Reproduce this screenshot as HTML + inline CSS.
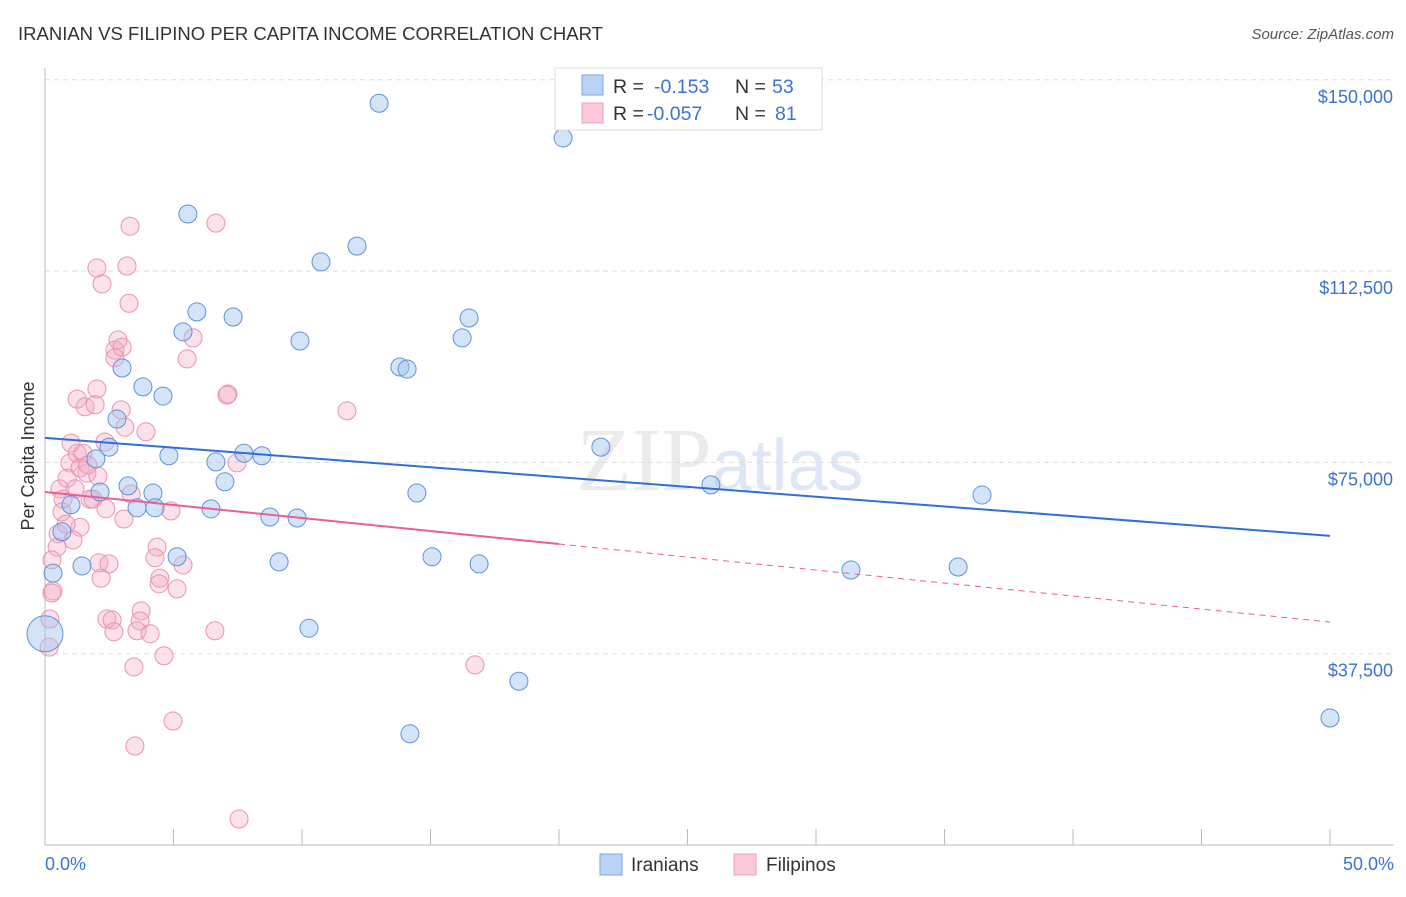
<!DOCTYPE html>
<html><head><meta charset="utf-8"><style>
body{margin:0;background:#fff;font-family:"Liberation Sans",sans-serif}
</style></head><body>
<svg id="chart" width="1406" height="892" xmlns="http://www.w3.org/2000/svg">
<text x="18" y="40" font-size="18.5" fill="#333">IRANIAN VS FILIPINO PER CAPITA INCOME CORRELATION CHART</text>
<text x="1394" y="39" font-size="15" fill="#555" font-style="italic" text-anchor="end">Source: ZipAtlas.com</text>
<text x="720" y="490" font-size="90" fill="#ebebeb" text-anchor="middle" font-family="Liberation Serif,serif">ZIP<tspan fill="#dde7f5" font-family="Liberation Sans,sans-serif" font-size="72">atlas</tspan></text>
<g id="grid"></g>
<line x1="45" y1="68" x2="45" y2="845" stroke="#bbb"/>
<line x1="45" y1="845" x2="1394" y2="845" stroke="#bbb"/>
<text transform="translate(34,456) rotate(-90)" font-size="18" fill="#333" text-anchor="middle">Per Capita Income</text>
<text x="45" y="870" font-size="18" fill="#3b73d1">0.0%</text>
<text x="1394" y="870" font-size="18" fill="#3b73d1" text-anchor="end">50.0%</text>
<g id="ticks"></g>
<g id="pts"></g>
<g id="lines"></g>
<g>
<rect x="555" y="68" width="267" height="62" fill="#fff" stroke="#ddd"/>
<rect x="582" y="75" width="21" height="20" fill="#b9d3f5" stroke="#7da7e0"/>
<rect x="582" y="103" width="21" height="20" fill="#fbc9d7" stroke="#eea0b8"/>
<text x="613" y="93" font-size="19.5" fill="#333">R =</text>
<text x="654" y="93" font-size="19.5" fill="#3b73d1">-0.153</text>
<text x="735" y="93" font-size="19.5" fill="#333">N =</text>
<text x="772" y="93" font-size="19.5" fill="#3b73d1">53</text>
<text x="613" y="120" font-size="19.5" fill="#333">R =</text>
<text x="647" y="120" font-size="19.5" fill="#3b73d1">-0.057</text>
<text x="735" y="120" font-size="19.5" fill="#333">N =</text>
<text x="775" y="120" font-size="19.5" fill="#3b73d1">81</text>
</g>
<g>
<rect x="600" y="854" width="22" height="21" fill="#b9d3f5" stroke="#7da7e0"/>
<text x="631" y="871" font-size="19" fill="#333">Iranians</text>
<rect x="734" y="854" width="22" height="21" fill="#fbc9d7" stroke="#eea0b8"/>
<text x="766" y="871" font-size="19" fill="#333">Filipinos</text>
</g>
</svg>
<script>
const yTicks=[37500,75000,112500,150000];
const yTickLabels=["$37,500","$75,000","$112,500","$150,000"];
const xTicks=[0,5,10,15,20,25,30,35,40,45,50];
const iranX=[13.0,20.16,5.56,10.74,12.14,5.91,7.32,5.37,9.92,16.5,16.23,3.0,13.81,14.09,3.81,4.59,2.8,2.49,1.98,21.63,4.82,7.74,8.44,6.65,7.0,3.23,4.2,2.14,14.47,25.91,36.46,1.01,3.58,4.28,6.46,8.75,9.81,0.66,1.44,0.31,5.14,9.11,15.06,16.89,31.36,35.53,10.27,18.44,14.2,50,0];
const iranY=[145.4,138.6,123.7,114.3,117.4,104.5,103.5,100.6,98.8,103.3,99.4,93.5,93.7,93.3,89.8,88.0,83.5,78.0,75.7,78.0,76.3,76.8,76.3,75.1,71.2,70.4,69.0,69.2,69.0,70.6,68.6,66.7,66.1,66.1,65.9,64.3,64.1,61.4,54.7,53.3,56.5,55.5,56.5,55.1,53.9,54.5,42.5,32.1,21.8,24.9,41.4];
const filX=[3.31,6.65,2.02,2.22,3.19,3.27,5.76,5.53,2.84,2.72,3.0,2.72,2.02,1.25,1.56,1.95,2.96,7.12,7.08,11.75,3.11,3.93,1.01,2.33,1.25,0.97,1.48,1.36,1.63,7.47,0.58,0.86,1.17,0.7,1.75,1.87,2.37,3.35,3.07,4.9,1.36,0.51,1.09,0.47,0.27,0.31,0.27,2.1,2.49,2.18,4.36,4.28,5.37,4.47,4.44,5.14,0.19,2.41,2.61,2.68,3.74,3.7,3.58,4.09,6.61,0.16,4.63,3.46,16.73,4.98,3.5,7.55,1.67,2.06,0.66,0.82];
const filY=[121.3,121.9,113.1,110.0,113.5,106.2,99.4,95.3,99.0,97.0,97.6,95.5,89.4,87.4,85.9,86.3,85.3,88.4,88.2,85.1,81.9,81.0,78.8,79.0,76.8,74.9,76.8,73.9,72.9,74.9,69.8,71.9,69.8,67.8,67.8,67.8,65.9,68.8,63.9,65.5,62.3,61.0,59.8,58.4,55.9,49.8,49.4,55.3,55.1,52.3,58.4,56.3,54.9,52.3,51.2,50.2,44.3,44.3,44.1,41.8,45.9,43.9,42.0,41.4,42.0,38.8,37.1,34.9,35.3,24.3,19.4,5.1,74.5,72.3,65.3,62.9];
const iranTrend=[79.8,60.6];
const filTrend=[69.2,43.7];
const sx=v=>45+v*25.7;
const sy=v=>845-v*1000/196.03;
const NS="http://www.w3.org/2000/svg";
function mk(t,a,p){const e=document.createElementNS(NS,t);for(const k in a)e.setAttribute(k,a[k]);p.appendChild(e);return e;}
const grid=document.getElementById('grid');
yTicks.forEach((v,i)=>{
 const l=mk('line',{x1:45,x2:1394,y1:sy(v/1000),y2:sy(v/1000),stroke:'#ddd','stroke-dasharray':'5,4'},grid);
 
 
 const t=mk('text',{x:1393,y:sy(v/1000)+23,'font-size':18,fill:'#3b73d1','text-anchor':'end'},grid);
 t.textContent=yTickLabels[i];
 
 
});
const ticks=document.getElementById('ticks');
xTicks.forEach(v=>{
 const l=mk('line',{x1:sx(v),x2:sx(v),y1:829,y2:845,stroke:'#bbb'},ticks);
 
 
});
const pts=document.getElementById('pts');
filX.forEach((x,i)=>{
 const c=mk('circle',{cx:sx(x),cy:sy(filY[i]),r:9,fill:'rgba(244,170,195,0.35)',stroke:'#ea93b0','stroke-width':1},pts);
 
 
});
iranX.forEach((x,i)=>{
 const c=mk('circle',{cx:sx(x),cy:sy(iranY[i]),r:(i==iranX.length-1)?18:9,fill:'rgba(160,195,240,0.45)',stroke:'#5f93da','stroke-width':1},pts);
 
 
});
const lines=document.getElementById('lines');
const b=mk('line',{x1:sx(0),y1:sy(iranTrend[0]),x2:sx(50),y2:sy(iranTrend[1]),stroke:'#2f6fd6','stroke-width':2},lines);


const fm=filTrend[0]+(filTrend[1]-filTrend[0])*0.4;
const p1=mk('line',{x1:sx(0),y1:sy(filTrend[0]),x2:sx(20),y2:sy(fm),stroke:'#e8608e','stroke-width':2},lines);


const p2=mk('line',{x1:sx(20),y1:sy(fm),x2:sx(50),y2:sy(filTrend[1]),stroke:'#e8608e','stroke-width':1,'stroke-dasharray':'6,5'},lines);


</script>
</body></html>
